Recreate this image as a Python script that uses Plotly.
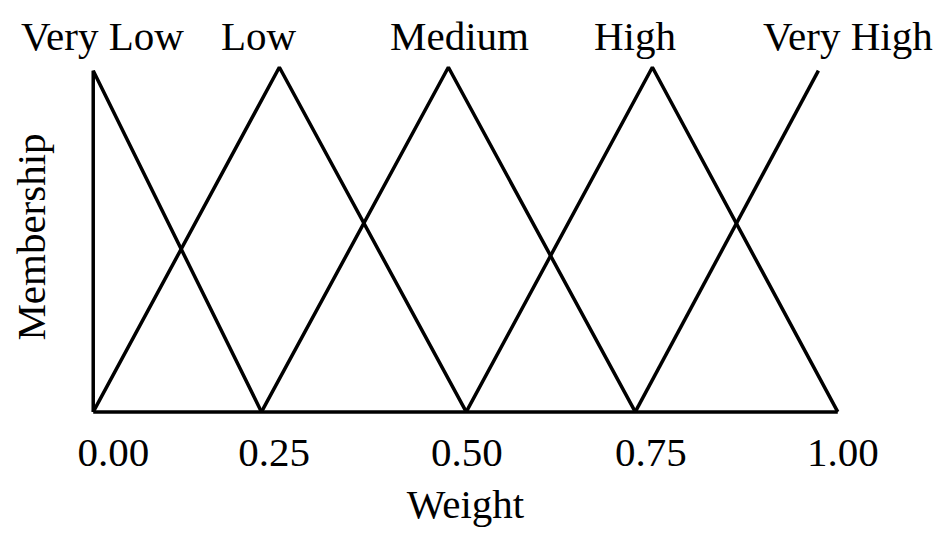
import plotly.graph_objects as go

# Membership functions (x = weight, y = membership)
very_low_x = [0.0, 0.0, 0.226]
very_low_y = [0.0, 0.99, 0.0]
low_x = [0.0, 0.25, 0.501]
low_y = [0.0, 1.0, 0.0]
medium_x = [0.226, 0.477, 0.728]
medium_y = [0.0, 1.0, 0.0]
high_x = [0.501, 0.751, 1.0]
high_y = [0.0, 1.0, 0.0]
very_high_x = [0.728, 0.974]
very_high_y = [0.0, 0.99]
baseline_x = [0.0, 1.0]
baseline_y = [0.0, 0.0]

set_names = ["Very Low", "Low", "Medium", "High", "Very High"]
tick_labels = ["0.00", "0.25", "0.50", "0.75", "1.00"]

# label placement (layout only)
name_pos_x = [0.012, 0.223, 0.492, 0.728, 1.014]
tick_pos = [0.027, 0.243, 0.502, 0.749, 1.007]

FONT = "Liberation Serif, Times New Roman, serif"
FS = 41
line = dict(color="black", width=3.5)

fig = go.Figure()
for xs, ys in [(very_low_x, very_low_y), (low_x, low_y), (medium_x, medium_y),
               (high_x, high_y), (very_high_x, very_high_y), (baseline_x, baseline_y)]:
    fig.add_trace(go.Scatter(x=xs, y=ys, mode="lines", line=line,
                             showlegend=False, hoverinfo="skip", cliponaxis=False))

for name, px in zip(set_names, name_pos_x):
    fig.add_annotation(x=px, y=1.037, xref="x", yref="paper", text=name, showarrow=False,
                       xanchor="center", yanchor="middle",
                       font=dict(family=FONT, size=FS, color="black"))

fig.update_layout(
    width=943, height=532,
    margin=dict(l=47.75, r=75.75, t=41.75, b=115.9),
    paper_bgcolor="white", plot_bgcolor="white",
    font=dict(family=FONT, size=FS, color="black"),
    xaxis=dict(range=[-0.05, 1.05], showgrid=False, zeroline=False, showline=False,
               automargin=False,
               tickmode="array", tickvals=tick_pos, ticktext=tick_labels, ticks="",
               tickfont=dict(family=FONT, size=FS, color="black"),
               title=dict(text="Weight", font=dict(family=FONT, size=FS), standoff=15)),
    yaxis=dict(range=[-0.035, 1.05], showgrid=False, zeroline=False, showline=False,
               automargin=False, showticklabels=False, ticks="",
               title=dict(text="Membership", font=dict(family=FONT, size=FS), standoff=0)),
)

fig.write_html("out.html")
